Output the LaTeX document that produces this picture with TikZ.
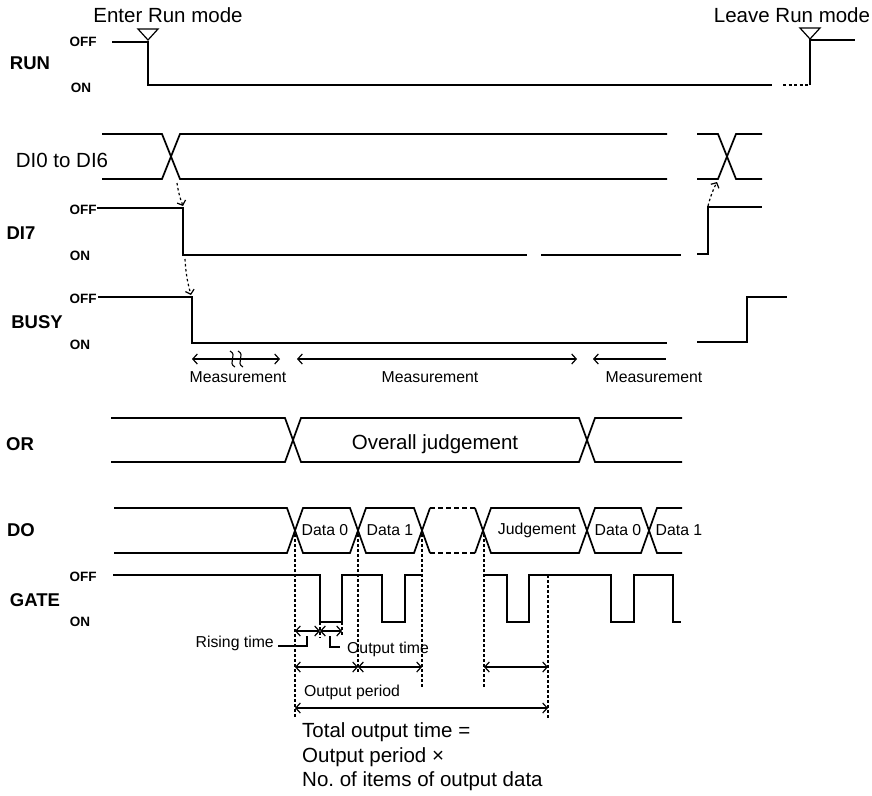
\documentclass[tikz,border=0pt]{standalone}
\usepackage{fontspec}
\setmainfont{Liberation Sans}
\usetikzlibrary{arrows.meta}

\begin{document}
\begin{tikzpicture}[x=1pt,y=-1pt,
    wave/.style={line width=1.7pt},
    dim/.style={line width=1.2pt,{Straight Barb[length=4.5pt,width=10pt]}-{Straight Barb[length=4.5pt,width=10pt]}},
    guide/.style={line width=1.2pt,dash pattern=on 2.5pt off 2.5pt},
    sig/.style={inner sep=0pt,font=\fontsize{18.5}{20}\selectfont\bfseries},
    lvl/.style={inner sep=0pt,font=\fontsize{13.5}{15}\selectfont\bfseries},
    big/.style={inner sep=0pt,font=\fontsize{20.5}{24.5}\selectfont},
    small/.style={inner sep=0pt,font=\fontsize{15.8}{18}\selectfont}]

    \useasboundingbox (0,0) rectangle (872,795);

    % RUN
    \node[big] (enter) at (168,15) {Enter Run mode};
    \node[big] (leave) at (792,15) {Leave Run mode};
    \node[sig] (run) at (30,63) {RUN};
    \node[lvl] (runoff) at (83,42) {OFF};
    \node[lvl] (runon) at (81,88) {ON};
    \draw[wave] (112,42) -- (148,42) -- (148,85) -- (772,85);
    \draw[wave,dash pattern=on 3pt off 2.5pt] (783,85) -- (810,85);
    \draw[wave] (810,85) -- (810,40) -- (855,40);
    \draw[line width=1.2pt] (138,29) -- (158,29) -- (148,40) -- cycle;
    \draw[line width=1.2pt] (800,28) -- (820,28) -- (810,39) -- cycle;

    % DI0 to DI6
    \node[big] (dizero) at (62,160) {DI0 to DI6};
    \draw[wave] (102,134) -- (162,134) -- (180,179) -- (667,179);
    \draw[wave] (102,179) -- (162,179) -- (180,134) -- (667,134);
    \draw[wave] (697,134) -- (718,134) -- (736,179) -- (762,179);
    \draw[wave] (697,179) -- (718,179) -- (736,134) -- (762,134);

    % DI7
    \node[sig] (diseven) at (21,233) {DI7};
    \node[lvl] (dioff) at (83,210) {OFF};
    \node[lvl] (dion) at (80,256) {ON};
    \draw[wave] (97,208) -- (183,208) -- (183,255) -- (527,255);
    \draw[wave] (541,255) -- (681,255);
    \draw[wave] (697,254) -- (708,254) -- (708,207) -- (762,207);

    % BUSY
    \node[sig] (busy) at (37,322) {BUSY};
    \node[lvl] (busyoff) at (83,299) {OFF};
    \node[lvl] (busyon) at (80,345) {ON};
    \draw[wave] (98,297) -- (192,297) -- (192,343) -- (667,343);
    \draw[wave] (697,342) -- (747,342) -- (747,297) -- (787,297);

    % causes
    \coordinate (dicross) at (177,183);
    \coordinate (difall) at (183,206);
    \coordinate (difoot) at (185,259);
    \coordinate (busyfall) at (191,295);
    \coordinate (dirise) at (708,206);
    \coordinate (dicrossb) at (717,182);
    \draw[guide,-{Straight Barb[length=4pt,width=9pt]}] (dicross) to[bend right=6] (difall);
    \draw[guide,-{Straight Barb[length=4pt,width=9pt]}] (difoot) to[bend right=6] (busyfall);
    \draw[guide,-{Straight Barb[length=4pt,width=9pt]}] (dirise) to[bend left=6] (dicrossb);

    % measurement
    \draw[dim] (192,359) -- (280,359);
    \draw[line width=1.1pt] (230,351) .. controls (238,355) and (227,363) .. (235,367);
    \draw[line width=1.1pt] (238,351) .. controls (246,355) and (235,363) .. (243,367);
    \draw[dim] (297,359) -- (577,359);
    \draw[line width=1.2pt,{Straight Barb[length=4.5pt,width=10pt]}-] (593,359) -- (666,359);
    \node[small] (meas1) at (238,377) {Measurement};
    \node[small] (meas2) at (430,377) {Measurement};
    \node[small] (meas3) at (654,377) {Measurement};

    % OR
    \node[sig] (or) at (20,444) {OR};
    \draw[wave] (111,418) -- (285,418) -- (301,462) -- (579,462) -- (595,418) -- (682,418);
    \draw[wave] (111,462) -- (285,462) -- (301,418) -- (579,418) -- (595,462) -- (682,462);
    \node[big] (overall) at (435,444) {Overall judgement};

    % DO
    \node[sig] (do) at (21,530) {DO};
    \draw[wave] (114,508) -- (287,508) -- (303,553) -- (350,553) -- (366,508) -- (414,508) -- (430,553);
    \draw[wave] (114,553) -- (287,553) -- (303,508) -- (350,508) -- (366,553) -- (414,553) -- (430,508);
    \draw[wave,dash pattern=on 5pt off 3pt] (430,508) -- (475,508);
    \draw[wave,dash pattern=on 5pt off 3pt] (430,553) -- (475,553);
    \draw[wave] (475,508) -- (491,553) -- (579,553) -- (595,508) -- (641,508) -- (657,553) -- (682,553);
    \draw[wave] (475,553) -- (491,508) -- (579,508) -- (595,553) -- (641,553) -- (657,508) -- (682,508);
    \node[small] (dzero) at (325,530) {Data 0};
    \node[small] (done) at (390,530) {Data 1};
    \node[small] (judge) at (537,530) {Judgement};
    \node[small] (dzerob) at (618,530) {Data 0};
    \node[small] (doneb) at (679,530) {Data 1};

    % GATE
    \node[sig] (gate) at (35,600) {GATE};
    \node[lvl] (gateoff) at (83,577) {OFF};
    \node[lvl] (gateon) at (80,622) {ON};
    \draw[wave] (113,575) -- (320,575) -- (320,622) -- (342,622) -- (342,575) -- (382,575)
        -- (382,622) -- (405,622) -- (405,575) -- (421,575);
    \draw[wave] (483,575) -- (507,575) -- (507,622) -- (529,622) -- (529,575) -- (611,575)
        -- (611,622) -- (634,622) -- (634,575) -- (673,575) -- (673,622) -- (681,622);

    % timing
    \draw[guide] (295,534) -- (295,718);
    \draw[guide] (358,534) -- (358,672);
    \draw[guide] (422,534) -- (422,687);
    \draw[guide] (484,534) -- (484,687);
    \draw[guide] (548,575) -- (548,718);
    \draw[guide] (320,622) -- (320,638);
    \draw[guide] (342,622) -- (342,636);
    \draw[dim] (295,631) -- (320,631);
    \draw[dim] (320,631) -- (342,631);
    \draw[line width=1.2pt] (278,646) -- (307,646) -- (307,636);
    \draw[line width=1.2pt] (330,636) -- (330,647) -- (340,647);
    \node[small,anchor=east] (rising) at (274,643) {Rising time};
    \node[small,anchor=west] (outtime) at (347,649) {Output time};
    \draw[dim] (295,667) -- (358,667);
    \draw[dim] (358,667) -- (422,667);
    \draw[dim] (484,667) -- (548,667);
    \node[small,anchor=west] (period) at (304,692) {Output period};
    \draw[dim] (295,708) -- (548,708);
    \node[big,anchor=west,align=left] (total) at (302,757)
        {Total output time =\\Output period \texttimes\\No.\ of items of output data};
\end{tikzpicture}
\end{document}
